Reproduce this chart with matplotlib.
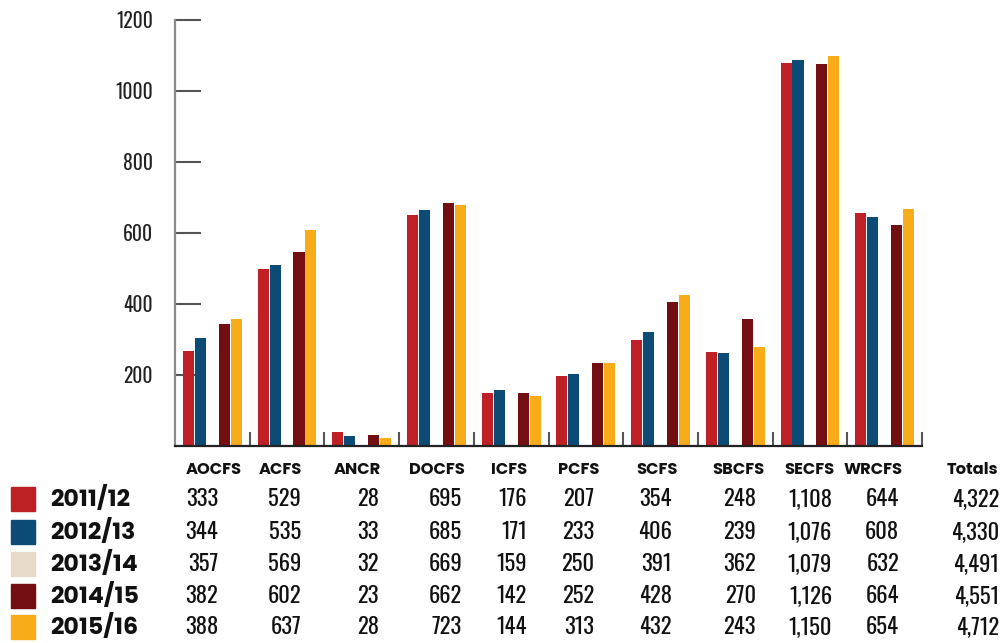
import matplotlib
matplotlib.use("Agg")
import matplotlib.pyplot as plt
from matplotlib import font_manager
from matplotlib.patches import Rectangle

# ---------------- data ----------------
categories = ["AOCFS", "ACFS", "ANCR", "DOCFS", "ICFS", "PCFS", "SCFS", "SBCFS", "SECFS", "WRCFS"]
years = ["2011/12", "2012/13", "2013/14", "2014/15", "2015/16"]

# bar heights as drawn in the chart (2013/14 bars are not visible)
bars_2011 = [267, 498, 39, 650, 149, 197, 298, 264, 1077, 655]
bars_2012 = [304, 509, 28, 664, 158, 203, 321, 262, 1086, 644]
bars_2013 = None
bars_2014 = [343, 546, 31, 684, 149, 233, 405, 357, 1074, 622]
bars_2015 = [357, 608, 23, 678, 141, 233, 425, 278, 1097, 667]

# table values
tbl_2011 = ["333", "529", "28", "695", "176", "207", "354", "248", "1,108", "644", "4,322"]
tbl_2012 = ["344", "535", "33", "685", "171", "233", "406", "239", "1,076", "608", "4,330"]
tbl_2013 = ["357", "569", "32", "669", "159", "250", "391", "362", "1,079", "632", "4,491"]
tbl_2014 = ["382", "602", "23", "662", "142", "252", "428", "270", "1,126", "664", "4,551"]
tbl_2015 = ["388", "637", "28", "723", "144", "313", "432", "243", "1,150", "654", "4,712"]
table_header = categories + ["Totals"]

y_ticks = [200, 400, 600, 800, 1000, 1200]

colors = ["#BE2026", "#0D4B77", "#E8DAC8", "#730F12", "#F9AC19"]

# ---------------- fonts ----------------
fonts = font_manager.fontManager.ttflist


def has(name, wmin=0, wmax=1000):
    for f in fonts:
        if f.name == name and f.style == "normal":
            try:
                w = int(f.weight)
            except (TypeError, ValueError):
                w = 400
            if wmin <= w <= wmax:
                return True
    return False


def pick(prefs, default, wmin=0, wmax=1000):
    for p in prefs:
        if has(p, wmin, wmax):
            return p
    return default


narrow = pick(["Oswald", "Pathway Gothic One", "Roboto Condensed", "Archivo Narrow",
               "PT Sans Narrow", "IBM Plex Sans Condensed"], "DejaVu Sans")
boldf = pick(["Jost", "League Spartan", "Futura", "Poppins", "Montserrat", "Liberation Sans"],
             "DejaVu Sans", wmin=650)

W, H = 1008, 643
fig = plt.figure(figsize=(W / 100, H / 100), dpi=100)
renderer = fig.canvas.get_renderer()


def fit_size(text, target_px, base=12.0, **kw):
    t = fig.text(0, 0, text, fontsize=base, **kw)
    w = t.get_window_extent(renderer=renderer).width
    t.remove()
    return base * target_px / w if w > 0 else base


def fx(x):
    return x / W


def fy(y):
    return 1 - y / H


left, right, top, bottom = 175, 922, 19.7, 446
ax = fig.add_axes([fx(left), fy(bottom), (right - left) / W, (bottom - top) / H])

series = [bars_2011, bars_2012, bars_2013, bars_2014, bars_2015]
width = 0.148
step = 0.16
for k, vals in enumerate(series):
    if vals is None:
        continue
    xs = [i + 0.5 + (k - 2) * step for i in range(len(categories))]
    ax.bar(xs, vals, width=width, color=colors[k], linewidth=0, zorder=2)

ax.set_xlim(0, len(categories))
ax.set_ylim(0, 1200)
ax.set_axisbelow(True)

for s in ["top", "right"]:
    ax.spines[s].set_visible(False)
ax.spines["left"].set_color("#8a8a8a")
ax.spines["left"].set_linewidth(1.6)
ax.spines["bottom"].set_color("#222222")
ax.spines["bottom"].set_linewidth(1.6)

ysize = min(fit_size("1200", 37, family=narrow), 18)
ax.set_yticks(y_ticks)
ax.set_yticklabels([str(v) for v in y_ticks])
ax.tick_params(axis="y", direction="in", length=19, width=1.5, color="#555555",
               pad=16, labelsize=ysize, labelcolor="#222222")
for lab in ax.get_yticklabels():
    lab.set_family(narrow)

ax.set_xticks(list(range(1, len(categories) + 1)))
ax.set_xticklabels([])
ax.tick_params(axis="x", direction="in", length=10, width=1.5, color="#555555")

# ---------------- table ----------------
header_cx = [214, 280, 357, 437, 509, 579, 657, 738, 809, 873, 972]
value_rx = [218, 301, 379, 462, 527, 594, 672, 756, 832, 899, 999]
header_y = 470.5
row_y = [499, 532, 564, 596, 627]

hsize = min(fit_size("AOCFS", 56, family=boldf, fontweight="bold"), 14)
lsize = min(fit_size("2011/12", 82, family=boldf, fontweight="bold"), 17)
nsize = min(fit_size("333", 32, family=narrow), 19)

for name, cx in zip(table_header, header_cx):
    fig.text(fx(cx), fy(header_y), name, ha="center", va="center",
             family=boldf, fontweight="bold", fontsize=hsize, color="#111111")

tables = [tbl_2011, tbl_2012, tbl_2013, tbl_2014, tbl_2015]
for r, (yr, row) in enumerate(zip(years, tables)):
    yc = row_y[r]
    fig.patches.append(Rectangle((fx(11), fy(yc + 12)), 24 / W, 24 / H,
                                 transform=fig.transFigure, color=colors[r], figure=fig))
    fig.text(fx(50), fy(yc), yr, ha="left", va="center", family=boldf,
             fontweight="bold", fontsize=lsize, color="#111111")
    for v, rx in zip(row, value_rx):
        fig.text(fx(rx), fy(yc), v, ha="right", va="center", family=narrow,
                 fontsize=nsize, color="#111111")

fig.savefig("out.png", dpi=100)
